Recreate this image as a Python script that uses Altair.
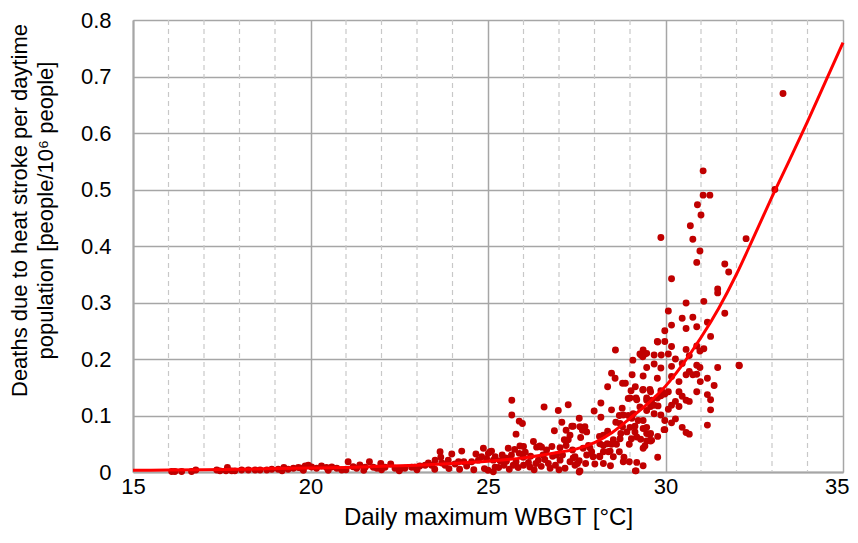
import altair as alt
import pandas as pd

# ---- scatter data: daily maximum WBGT [°C] vs deaths per 10^6 daytime population
wbgt = [
    16.09, 16.18, 16.37, 16.65, 16.77, 17.36, 17.45, 17.66, 17.62, 17.78, 17.87, 18.06, 18.25, 18.44, 18.58,
    18.77, 18.91, 19.09, 19.25, 19.37, 19.52, 19.66, 19.75, 19.85, 19.94, 20.03, 20.17, 20.31, 20.45, 20.60,
    20.74, 20.88, 21.06, 21.20, 21.30, 21.39, 21.54, 21.66, 21.77, 21.87, 21.98, 22.10, 22.26, 22.38, 22.52,
    22.66, 22.85, 22.94, 23.08, 23.23, 23.32, 23.41, 23.51, 23.65, 23.67, 23.70, 23.79, 23.88, 23.98, 24.07,
    24.17, 24.26, 24.32, 24.40, 24.54, 24.66, 24.73, 24.82, 24.87, 24.96, 25.06, 25.15, 25.20,
    19.20, 19.80, 20.50, 21.00, 21.50, 22.00, 22.50, 23.00, 23.50, 23.90, 24.20, 24.60, 24.90, 25.00,
    25.67, 25.67, 25.88, 25.97, 26.58, 26.98, 27.26, 25.79, 26.87, 27.08, 27.20, 27.36, 27.15, 27.26, 25.90,
    26.28, 26.46, 26.65, 25.57, 25.10, 26.37, 26.51, 26.82, 27.03, 27.20, 27.38, 27.57, 27.75, 27.03, 26.93,
    25.88, 25.99, 25.66, 25.52, 25.34, 25.79, 26.14, 26.42, 26.60, 26.70, 27.31, 27.45, 25.20, 25.01, 27.17,
    26.75, 26.18, 25.71, 25.15, 25.30, 25.45, 25.60, 25.85, 26.00, 26.30, 26.50, 26.90, 27.00, 25.40, 25.75,
    26.05, 26.20, 26.55, 27.10, 26.00, 25.50, 26.35, 27.40, 26.80,
    28.59, 29.08, 29.31, 29.42, 29.36, 29.78, 28.48, 28.58, 28.79, 28.87, 29.06, 28.37, 29.36, 29.00, 29.19,
    28.18, 27.99, 28.48, 28.78, 28.18, 27.57, 28.70, 28.81, 29.09, 28.60, 28.72, 29.23, 27.40, 27.59, 27.73,
    28.79, 29.00, 29.14, 27.66, 27.78, 28.37, 28.74, 28.91, 29.14, 27.31, 27.61, 28.25, 28.14, 28.72, 28.53,
    29.04, 29.19, 29.30, 28.15, 28.25, 28.36, 28.48, 28.62, 27.83, 27.87, 28.98, 29.42, 27.68, 27.92, 28.25,
    28.44, 28.70, 27.78, 27.45, 28.14, 28.53, 28.83, 28.98, 27.52, 28.01, 28.25, 28.45, 29.17, 27.57,
    29.03, 29.15, 28.95, 29.17, 29.56, 29.61, 29.90, 28.95, 29.05, 29.37, 29.56, 29.61, 29.96, 29.15, 29.19,
    28.81, 28.39, 27.96, 28.15, 27.59,
    29.37, 29.28, 29.47, 29.68, 29.88, 30.08, 30.28, 30.67, 30.17, 30.47, 29.68, 29.47, 29.87, 30.88, 30.97,
    31.47, 32.07, 30.67, 30.58, 30.77, 30.88, 29.77, 30.17, 29.37, 30.98, 31.18, 30.38, 31.37, 29.37, 29.58,
    29.87, 30.08, 30.88, 31.18, 31.27, 30.38, 30.47, 30.58, 30.67, 29.47, 29.47, 29.87, 29.98, 29.77, 30.28,
    30.17, 29.28, 29.58, 29.68, 29.79, 30.38, 31.27, 30.08, 29.47, 29.68, 29.87, 29.98, 29.98, 30.28, 30.17,
    29.37, 30.47, 30.58, 30.67, 31.18, 29.47, 29.47, 29.58, 29.58, 29.47, 29.78, 29.37, 29.78, 29.37,
    30.47, 30.77, 30.17, 30.58, 30.88, 31.18, 31.27, 29.98, 29.77, 29.98, 30.17, 30.58, 30.88, 30.97, 31.08,
    33.31, 33.08, 32.27, 31.06, 31.06, 31.25, 30.90, 31.00, 30.70, 29.87, 30.77, 30.97, 30.88, 30.17, 30.58,
    31.08, 30.08, 31.47, 31.47, 31.67, 31.78, 31.67, 32.08,
]
deaths = [
    0.001, 0.001, 0.001, 0.001, 0.0035, 0.0035, 0.002, 0.008, 0.002, 0.002, 0.002, 0.0035, 0.0035, 0.0035, 0.0035,
    0.0035, 0.005, 0.005, 0.008, 0.005, 0.0065, 0.008, 0.0065, 0.0105, 0.012, 0.009, 0.0065, 0.0105, 0.008, 0.009,
    0.0065, 0.0035, 0.018, 0.0093, 0.0065, 0.0123, 0.0083, 0.018, 0.0083, 0.0065, 0.015, 0.0083, 0.014, 0.0065, 0.005,
    0.0065, 0.0083, 0.0083, 0.0105, 0.012, 0.016, 0.012, 0.021, 0.036, 0.026, 0.016, 0.012, 0.021, 0.032, 0.014,
    0.018, 0.037, 0.018, 0.0105, 0.018, 0.032, 0.021, 0.027, 0.042, 0.024, 0.036, 0.021, 0.0083,
    0.002, 0.003, 0.003, 0.004, 0.003, 0.004, 0.002, 0.004, 0.005, 0.006, 0.005, 0.004, 0.006, 0.003,
    0.127, 0.101, 0.090, 0.086, 0.115, 0.109, 0.119, 0.067, 0.073, 0.088, 0.074, 0.081, 0.057, 0.057, 0.046,
    0.054, 0.046, 0.039, 0.042, 0.037, 0.044, 0.044, 0.028, 0.043, 0.047, 0.039, 0.020, 0.015, 0.021, 0.030,
    0.033, 0.026, 0.030, 0.019, 0.020, 0.018, 0.017, 0.021, 0.022, 0.015, 0.018, 0.012, 0.027, 0.033, 0.0065,
    0.0065, 0.009, 0.012, 0.0005, 0.008, 0.012, 0.005, 0.008, 0.012, 0.004, 0.010, 0.012, 0.004, 0.030, 0.040,
    0.035, 0.028, 0.030, 0.030, 0.045, 0.025, 0.015, 0.025, 0.045,
    0.216, 0.198, 0.207, 0.209, 0.204, 0.230, 0.175, 0.166, 0.157, 0.157, 0.172, 0.151, 0.145, 0.131, 0.128,
    0.122, 0.108, 0.110, 0.113, 0.097, 0.095, 0.100, 0.101, 0.103, 0.088, 0.086, 0.091, 0.081, 0.080, 0.080,
    0.080, 0.079, 0.081, 0.074, 0.071, 0.072, 0.068, 0.071, 0.071, 0.065, 0.061, 0.065, 0.063, 0.059, 0.057,
    0.059, 0.062, 0.058, 0.050, 0.047, 0.050, 0.049, 0.049, 0.047, 0.043, 0.049, 0.046, 0.042, 0.036, 0.036,
    0.037, 0.036, 0.030, 0.027, 0.028, 0.027, 0.026, 0.018, 0.015, 0.014, 0.015, 0.011, 0.002, 0.000,
    0.144, 0.151, 0.130, 0.131, 0.146, 0.127, 0.142, 0.100, 0.095, 0.077, 0.066, 0.056, 0.075, 0.002, 0.017,
    0.018, 0.036, 0.027, 0.027, 0.002,
    0.216, 0.209, 0.210, 0.207, 0.207, 0.209, 0.200, 0.206, 0.187, 0.192, 0.191, 0.185, 0.184, 0.189, 0.185,
    0.185, 0.189, 0.178, 0.172, 0.172, 0.173, 0.166, 0.169, 0.170, 0.160, 0.166, 0.160, 0.153, 0.146, 0.142,
    0.144, 0.142, 0.142, 0.137, 0.128, 0.142, 0.134, 0.127, 0.125, 0.131, 0.127, 0.135, 0.138, 0.131, 0.125,
    0.118, 0.115, 0.116, 0.118, 0.117, 0.116, 0.110, 0.111, 0.109, 0.103, 0.101, 0.091, 0.075, 0.094, 0.087,
    0.091, 0.079, 0.070, 0.067, 0.083, 0.079, 0.068, 0.068, 0.055, 0.055, 0.063, 0.042, 0.026, 0.011,
    0.272, 0.274, 0.260, 0.254, 0.257, 0.265, 0.240, 0.250, 0.231, 0.231, 0.222, 0.217, 0.223, 0.214, 0.218,
    0.670, 0.500, 0.413, 0.533, 0.490, 0.490, 0.473, 0.455, 0.436, 0.415, 0.412, 0.391, 0.371, 0.342, 0.299,
    0.302, 0.285, 0.324, 0.317, 0.368, 0.354, 0.281, 0.188,
]

# ---- fitted curve
curve_x = [15, 16, 17, 18, 19, 20, 21, 22, 23, 24, 25, 26, 27, 27.5, 28, 28.5, 29, 29.5, 30, 30.5, 31,
           31.5, 32, 32.5, 33, 33.5, 34, 34.5, 35]
curve_y = [0.003, 0.0035, 0.004, 0.005, 0.006, 0.007, 0.008, 0.010, 0.012, 0.015, 0.019, 0.025, 0.035,
           0.041, 0.052, 0.070, 0.095, 0.121, 0.152, 0.192, 0.238, 0.290, 0.350, 0.418, 0.487, 0.553,
           0.620, 0.690, 0.760]

x_major = [15, 20, 25, 30, 35]
x_minor = [16, 17, 18, 19, 21, 22, 23, 24, 26, 27, 28, 29, 31, 32, 33, 34]
y_ticks = [0, 0.1, 0.2, 0.3, 0.4, 0.5, 0.6, 0.7, 0.8]

pts = pd.DataFrame({"wbgt": wbgt, "deaths": deaths})
crv = pd.DataFrame({"wbgt": curve_x, "deaths": curve_y})
minor = pd.DataFrame({"wbgt": x_minor})

FONT = "Liberation Sans"
GRID = "#A6A6A6"

xscale = alt.Scale(domain=[15, 35], nice=False, zero=False)
yscale = alt.Scale(domain=[0, 0.8], nice=False)

xaxis = alt.Axis(values=x_major, grid=True, gridColor=GRID, gridWidth=1.5, ticks=False,
                 domainColor=GRID, domainWidth=2, labelFont=FONT, labelFontSize=22,
                 labelColor="#000000", labelPadding=4, labelFlush=False,
                 labelAlign={"condition": {"test": "datum.value == 35", "value": "right"}, "value": "center"},
                 labelOffset={"condition": {"test": "datum.value == 35", "value": 6}, "value": 0},
                 title="Daily maximum WBGT [°C]",
                 titleFont=FONT, titleFontSize=24, titleFontWeight="normal", titleColor="#000000",
                 titlePadding=8)
yaxis = alt.Axis(values=y_ticks, grid=True, gridColor=GRID, gridWidth=1.5, ticks=False,
                 domainColor=GRID, domainWidth=2, labelFont=FONT, labelFontSize=22,
                 labelColor="#000000", labelPadding=22, labelFlush=False,
                 labelExpr="datum.value == 0 ? '0' : format(datum.value, '.1f')",
                 title=["Deaths due to heat stroke per daytime", "population [people/10⁶ people]"],
                 titleFont=FONT, titleFontSize=22, titleFontWeight="normal", titleColor="#000000",
                 titleX=-102, titleY=190, titleAngle=-90, titleAlign="center", titleBaseline="bottom",
                 titleLineHeight=26)

minor_rules = alt.Chart(minor).mark_rule(color="#C8C8C8", strokeDash=[5, 4], strokeWidth=1.2).encode(
    x=alt.X("wbgt:Q", scale=xscale, axis=xaxis),
)

points = alt.Chart(pts).mark_circle(size=48, color="#C00000", opacity=1).encode(
    x=alt.X("wbgt:Q", scale=xscale, axis=xaxis),
    y=alt.Y("deaths:Q", scale=yscale, axis=yaxis),
)

line = alt.Chart(crv).mark_line(color="#FF0000", strokeWidth=3, interpolate="monotone").encode(
    x=alt.X("wbgt:Q", scale=xscale),
    y=alt.Y("deaths:Q", scale=yscale),
)

chart = alt.layer(minor_rules, points, line).properties(
    width=710, height=452,
    autosize=alt.AutoSizeParams(type="none"),
    padding={"left": 125, "top": 12, "right": 7, "bottom": 63},
).configure_view(stroke=GRID, strokeWidth=2).configure(background="white")

chart.save("out.html", embed_options={"renderer": "svg", "actions": False})
